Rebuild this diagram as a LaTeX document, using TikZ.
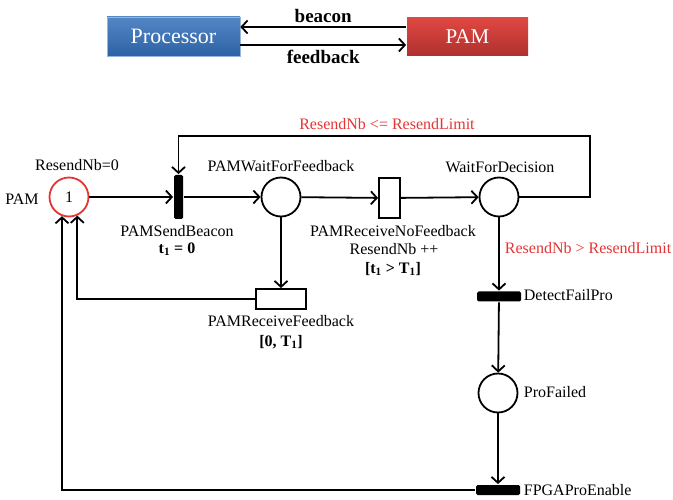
\documentclass[tikz,border=0pt]{standalone}
\usepackage{fontspec}
\setmainfont{Liberation Serif}
\usetikzlibrary{arrows.meta}

\definecolor{pamred}{RGB}{228,52,52}
\definecolor{procblue1}{RGB}{84,134,196}
\definecolor{procblue2}{RGB}{44,98,166}
\definecolor{pambox1}{RGB}{224,72,66}
\definecolor{pambox2}{RGB}{176,48,46}

\begin{document}
\begin{tikzpicture}[x=1pt,y=-1pt,line width=1.8pt,>={Straight Barb[length=6pt,width=13pt,line width=1.8pt]},
    font=\fontsize{16}{19}\selectfont,
    place/.style={circle,draw,minimum size=39pt,inner sep=0pt},
    trans/.style={draw,fill=white,inner sep=0pt},
    bar/.style={fill=black,rounded corners=1.5pt,inner sep=0pt},
    guard/.style={text=pamred}]
            \useasboundingbox (0,0) rectangle (673,500);

            \node[top color=procblue1,bottom color=procblue2,draw=procblue1!60,line width=0.6pt,minimum width=133pt,minimum height=39pt,text=white,font=\fontsize{22}{26}\selectfont] (proc) at (173.5,36.5) {Processor};
            \node[top color=pambox1,bottom color=pambox2,minimum width=121pt,minimum height=38pt,text=white,font=\fontsize{21}{26}\selectfont] (pambox) at (467.5,36.5) {PAM};
            \draw[->] (pambox.west |- 0,27) -- (proc.east |- 0,27) node[midway,above=0pt,font=\fontsize{19}{22}\bfseries] (beacon) {beacon};
            \draw[->] (proc.east |- 0,45) -- (pambox.west |- 0,45) node[midway,below=1pt,font=\fontsize{19}{22}\bfseries] (feedback) {feedback};

            \node[place,draw=pamred] (pam) at (69,197) {1};
            \node (pamlbl) at (22,199) {PAM};
            \node (resetlbl) at (77,165) {ResendNb=0};

            \node[bar,minimum width=9pt,minimum height=44pt] (send) at (178.5,197) {};
            \node (sendlbl) at (177,231) {PAMSendBeacon};
            \node[font=\fontsize{16}{19}\bfseries] (sendcond) at (177,249) {t\textsubscript{1} = 0};

            \node[place] (wff) at (281,197) {};
            \node (wfflbl) at (281,166) {PAMWaitForFeedback};

            \node[trans,minimum width=21pt,minimum height=40pt] (rnf) at (389.5,198) {};
            \node (rnflbl) at (393,231) {PAMReceiveNoFeedback};
            \node (rnfinc) at (394,249) {ResendNb ++};
            \node[font=\fontsize{16}{19}\bfseries] (rnfcond) at (393,269) {[t\textsubscript{1} > T\textsubscript{1}]};

            \node[place] (wfd) at (499,197) {};
            \node (wfdlbl) at (500,167) {WaitForDecision};

            \node[trans,minimum width=50pt,minimum height=20pt] (rf) at (281,299) {};
            \node (rflbl) at (281,321) {PAMReceiveFeedback};
            \node[font=\fontsize{16}{19}\bfseries] (rfcond) at (281,342) {[0, T\textsubscript{1}]};

            \node[bar,minimum width=44pt,minimum height=10pt] (dfp) at (499,296.5) {};
            \node[anchor=west,inner sep=0pt] (dfplbl) at (523,295) {DetectFailPro};

            \node[place] (pf) at (498,393) {};
            \node[anchor=west,inner sep=0pt] (pflbl) at (523,392) {ProFailed};

            \node[bar,minimum width=44pt,minimum height=10pt] (fpe) at (498,490) {};
            \node[anchor=west,inner sep=0pt] (fpelbl) at (523,490) {FPGAProEnable};

            \coordinate (loopr) at (590,136);
            \node[guard] (retrylbl) at (387,124) {ResendNb <= ResendLimit};
            \node[guard,anchor=west,inner sep=0pt] (faillbl) at (504,248) {ResendNb > ResendLimit};

            \draw[->] (pam) -- (send);
            \draw[->] (send) -- (wff);
            \draw[->] (wff) -- (rnf);
            \draw[->] (rnf) -- (wfd);
            \draw[->] (wfd) -| (loopr) -| (send);
            \draw[->] (wff) -- (rf);
            \draw[->] (rf) -| (pam.-66);
            \draw[->] (wfd) -- (dfp);
            \draw[->] (dfp) -- (pf);
            \draw[->] (pf) -- (fpe);
            \draw[->] (fpe) -| (pam.-110);
        \end{tikzpicture}
\end{document}
